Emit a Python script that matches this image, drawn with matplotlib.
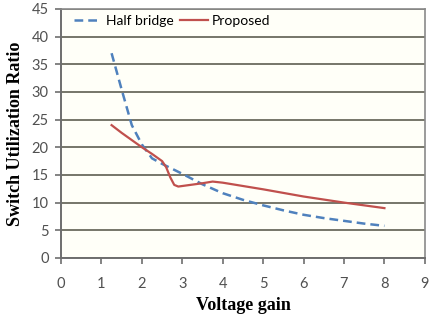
import matplotlib
matplotlib.use("Agg")
import matplotlib.pyplot as plt

# Half bridge curve
hb_gain = [1.25, 1.5, 1.75, 2.0, 2.25, 2.5, 2.75, 3.0, 3.5, 4.0, 4.5, 5.0, 5.5, 6.0, 6.5, 7.0, 7.5, 8.0]
hb_ratio = [37.0, 30.4, 24.0, 20.5, 18.0, 17.0, 16.1, 15.2, 13.3, 11.7, 10.5, 9.5, 8.6, 7.8, 7.2, 6.7, 6.2, 5.8]

# Proposed converter curve
pr_gain = [1.25, 1.5, 1.75, 2.0, 2.25, 2.5, 2.6, 2.7, 2.8, 2.9, 3.0, 3.2, 3.5, 3.75, 4.0, 5.0, 6.0, 7.0, 8.0]
pr_ratio = [24.0, 22.6, 21.3, 20.0, 18.8, 17.5, 16.4, 14.6, 13.2, 12.9, 13.0, 13.2, 13.5, 13.8, 13.6, 12.4, 11.1, 10.0, 9.0]

x_ticks = list(range(0, 10))
y_ticks = list(range(0, 50, 5))

fig = plt.figure(figsize=(4.3, 3.2), dpi=100)
ax = fig.add_axes([0.142, 0.194, 0.846, 0.778])
ax.set_facecolor("#fffff8")

ax.plot(hb_gain, hb_ratio, color="#4f81bd", lw=1.8, ls=(0, (3.5, 2)), label="Half bridge")
ax.plot(pr_gain, pr_ratio, color="#c0504d", lw=1.6, label="Proposed")

ax.set_xlim(0, 9)
ax.set_ylim(0, 45)
ax.set_xticks(x_ticks)
ax.set_yticks(y_ticks)

ax.yaxis.grid(True, color="#76766a", lw=1.4)
ax.set_axisbelow(True)

for side in ["top", "right"]:
    ax.spines[side].set_color("#8a8a8a")
    ax.spines[side].set_linewidth(1.2)
for side in ["left", "bottom"]:
    ax.spines[side].set_color("#6e6e6e")
    ax.spines[side].set_linewidth(1.4)

ax.tick_params(axis="both", direction="out", length=4, width=1.2, color="#6e6e6e",
               labelsize=10.5, labelcolor="#505050", pad=5)
for lbl in ax.get_xticklabels() + ax.get_yticklabels():
    lbl.set_family("Lato")
ax.tick_params(axis="x", pad=10)

ax.set_xlabel("Voltage gain", family="Liberation Serif", fontweight="bold", fontsize=13, labelpad=4)
ax.set_ylabel("Switch Utilization Ratio", family="Liberation Serif", fontweight="bold", fontsize=13, labelpad=5)

ax.legend(loc="upper left", bbox_to_anchor=(0.0, 1.025), ncol=2, frameon=False,
          prop={"family": "Lato", "size": 10}, handlelength=2.0, handletextpad=0.3,
          columnspacing=0.5)

fig.savefig("out.png", dpi=100)
